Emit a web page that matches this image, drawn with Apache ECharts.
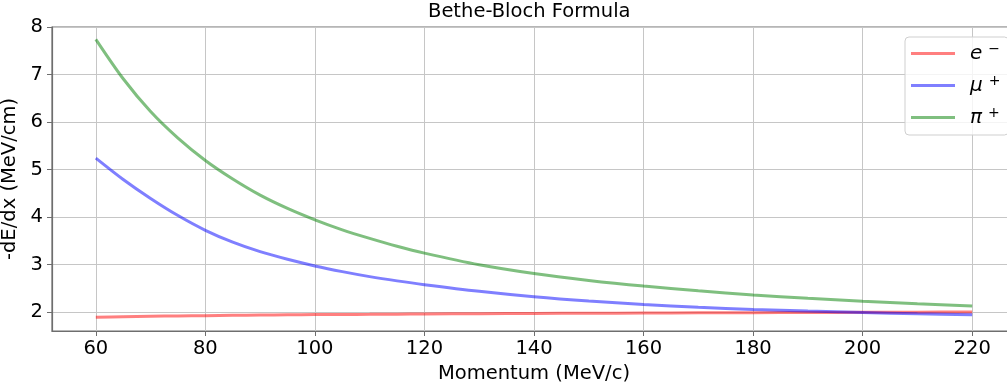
<!DOCTYPE html>
<html>
<head>
<meta charset="utf-8">
<script src="https://cdn.jsdelivr.net/npm/echarts@6/dist/echarts.min.js"></script>
<style>
  html, body { margin: 0; padding: 0; background: #fff; }
  #chart { width: 1007px; height: 385px; }
</style>
</head>
<body>
<div id="chart"></div>
<script>
// ── Data ───────────────────────────────────────────────────────────────
const momentum = [60, 65, 70, 75, 80, 85, 90, 95, 100, 105, 110, 115, 120, 130, 140, 150, 160, 170, 180, 190, 200, 210, 220];
const electron = [1.89, 1.90, 1.91, 1.917, 1.923, 1.93, 1.935, 1.94, 1.945, 1.948, 1.951, 1.955, 1.958, 1.964, 1.969, 1.974, 1.978, 1.982, 1.985, 1.989, 1.993, 1.997, 2.00];
const muon     = [5.24, 4.79, 4.39, 4.03, 3.72, 3.47, 3.27, 3.11, 2.97, 2.85, 2.745, 2.655, 2.575, 2.435, 2.32, 2.23, 2.16, 2.10, 2.055, 2.02, 1.99, 1.963, 1.94];
const pion     = [7.74, 6.91, 6.22, 5.66, 5.19, 4.80, 4.46, 4.18, 3.94, 3.73, 3.55, 3.385, 3.24, 2.995, 2.81, 2.665, 2.545, 2.445, 2.36, 2.288, 2.226, 2.172, 2.124];

const xTicks = [60, 80, 100, 120, 140, 160, 180, 200, 220];
const yTicks = [2, 3, 4, 5, 6, 7, 8];

const seriesNames = ["e-", "mu+", "pi+"];
const legendLabels = {
  "e-": "{b|e}{s|\u2212}",
  "mu+": "{b|\u03bc}{s|+}",
  "pi+": "{b|\u03c0}{s|+}",
};

const FONT = "DejaVu Sans";
const SPINE = "#6e6e6e";
const GRID = "#c6c6c6";

const pairs = (ys) => momentum.map((x, i) => [x, ys[i]]);

const chart = echarts.init(document.getElementById("chart"), null, { renderer: "canvas" });

chart.setOption({
  animation: false,
  title: {
    text: "Bethe-Bloch Formula",
    left: 428,
    top: 2,
    padding: 0,
    textStyle: { fontFamily: FONT, fontSize: 19.5, fontWeight: "normal", color: "#000" },
  },
  grid: {
    left: 52,
    right: -9,
    top: 27,
    bottom: 54,
    outerBoundsMode: "none",
    containLabel: false,
    show: true,
    borderColor: SPINE,
    borderWidth: 1.2,
    backgroundColor: "transparent",
  },
  legend: {
    orient: "vertical",
    left: 905,
    top: 37,
    data: seriesNames,
    icon: "rect",
    itemWidth: 44,
    itemHeight: 3,
    itemGap: 9,
    padding: [5, 8, 6, 6],
    backgroundColor: "rgba(255,255,255,0.8)",
    borderColor: "#cfcfcf",
    borderWidth: 1,
    borderRadius: 4,
    formatter: (name) => legendLabels[name],
    textStyle: {
      padding: [0, 0, 0, 10],
      lineHeight: 22,
      rich: {
        b: { fontFamily: FONT, fontStyle: "italic", fontSize: 20, color: "#000", lineHeight: 22 },
        s: { fontFamily: FONT, fontSize: 14, color: "#000", padding: [0, 0, 9, 6], lineHeight: 22 },
      },
    },
  },
  xAxis: {
    type: "value",
    min: 52,
    max: 228,
    name: "Momentum (MeV/c)",
    nameLocation: "middle",
    nameGap: 30,
    nameTextStyle: { fontFamily: FONT, fontSize: 19.5, color: "#000" },
    axisLine: { show: true, lineStyle: { color: SPINE, width: 1.2 } },
    axisTick: { show: true, inside: false, length: 5, customValues: xTicks, lineStyle: { color: SPINE } },
    axisLabel: { customValues: xTicks, margin: 8, fontFamily: FONT, fontSize: 19.5, color: "#000" },
    splitLine: { show: true, lineStyle: { color: GRID, width: 1 } },
  },
  yAxis: {
    type: "value",
    min: 1.6,
    max: 8,
    name: "-dE/dx (MeV/cm)",
    nameLocation: "middle",
    nameGap: 26,
    nameTextStyle: { fontFamily: FONT, fontSize: 19.5, color: "#000" },
    axisLine: { show: true, lineStyle: { color: SPINE, width: 1.2 } },
    axisTick: { show: true, inside: false, length: 5, customValues: yTicks, lineStyle: { color: SPINE } },
    axisLabel: { customValues: yTicks, margin: 9, fontFamily: FONT, fontSize: 19.5, color: "#000" },
    splitLine: { show: true, lineStyle: { color: GRID, width: 1 } },
  },
  series: [
    { name: "e-", data: pairs(electron), color: "rgba(255,0,0,0.5)" },
    { name: "mu+", data: pairs(muon), color: "rgba(0,0,255,0.5)" },
    { name: "pi+", data: pairs(pion), color: "rgba(0,128,0,0.5)" },
  ].map((s) => ({
    ...s,
    type: "line",
    symbol: "none",
    smooth: 0.3,
    lineStyle: { width: 3, color: s.color },
    itemStyle: { color: s.color },
  })),
});
</script>
</body>
</html>
